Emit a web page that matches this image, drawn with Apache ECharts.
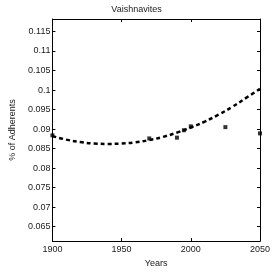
<!DOCTYPE html>
<html><head><meta charset="utf-8">
<script src="https://cdn.jsdelivr.net/npm/echarts@6/dist/echarts.min.js"></script>
<style>html,body{margin:0;padding:0;background:#fff}#c{width:273px;height:273px}</style>
</head><body><div id="c"></div>
<script>
const title = 'Vaishnavites';
const xName = 'Years';
const yName = '% of Adherents';
const obsYears = [1900, 1970, 1990, 1995, 2000, 2025, 2050];
const obsValues = [0.0884, 0.0876, 0.0878, 0.0897, 0.0907, 0.0905, 0.0889];
const fitYears = [1900,1910,1920,1930,1940,1950,1960,1970,1980,1990,2000,2010,2020,2030,2040,2050];
const fitValues = [0.0882,0.0873,0.0867,0.0863,0.0862,0.0863,0.0866,0.0872,0.0880,0.0891,0.0904,0.0919,0.0937,0.0957,0.0980,0.1003];
const xTicks = [1900, 1950, 2000, 2050];
const yTicks = [0.065,0.07,0.075,0.08,0.085,0.09,0.095,0.1,0.105,0.11,0.115];
const yMin = 0.0613, yMax = 0.1182;

const font = '"Liberation Sans Narrow", "Arial Narrow", "Liberation Sans", sans-serif';
const txt = '#1a1a1a';
const chart = echarts.init(document.getElementById('c'), null, {renderer:'canvas'});
const yFmt = v => {
  for (const t of yTicks) if (Math.abs(v - t) < 1e-7) return String(t);
  return '';
};
const xFmt = v => xTicks.includes(Math.round(v)) ? String(Math.round(v)) : '';
const lineStyle = {color:'#000', width:1};
chart.setOption({
  animation:false,
  title:{text:title, left:'center', top:0, textStyle:{fontFamily:font, fontSize:9, fontWeight:'normal', color:txt}},
  grid:{left:31, right:10, top:19, bottom:25, show:false},
  xAxis:[
    {type:'value', min:1900, max:2050, interval:50, name:xName, nameLocation:'middle', nameGap:15,
     nameTextStyle:{fontFamily:font, fontSize:9, color:txt},
     axisLine:{show:true, lineStyle}, axisTick:{show:true, inside:true, length:3, lineStyle},
     axisLabel:{fontFamily:font, fontSize:9, color:txt, margin:4, formatter:xFmt},
     splitLine:{show:false}},
    {type:'value', position:'top', min:1900, max:2050, interval:50,
     axisLine:{show:true, lineStyle}, axisTick:{show:true, inside:true, length:3, lineStyle},
     axisLabel:{show:false}, splitLine:{show:false}}
  ],
  yAxis:[
    {type:'value', min:yMin, max:yMax, splitNumber:11, name:yName, nameLocation:'middle', nameGap:28,
     nameTextStyle:{fontFamily:font, fontSize:9, color:txt},
     axisLine:{show:true, lineStyle}, axisTick:{show:true, inside:true, length:3, lineStyle},
     axisLabel:{fontFamily:font, fontSize:9, color:txt, margin:2, formatter:yFmt, showMinLabel:false, showMaxLabel:false},
     splitLine:{show:false}},
    {type:'value', position:'right', min:yMin, max:yMax, splitNumber:11,
     axisLine:{show:true, lineStyle}, axisTick:{show:true, inside:true, length:3, lineStyle},
     axisLabel:{show:false}, splitLine:{show:false}}
  ],
  series:[
    {type:'line', data:fitYears.map((y,i)=>[y, fitValues[i]]), smooth:true, showSymbol:false, symbol:'none',
     lineStyle:{color:'#000', width:2.5, type:[4,3]}, z:2},
    {type:'scatter', data:obsYears.map((y,i)=>[y, obsValues[i]]), symbol:'rect', symbolSize:4,
     itemStyle:{color:'#000'}, clip:false, z:3}
  ]
});
</script></body></html>
